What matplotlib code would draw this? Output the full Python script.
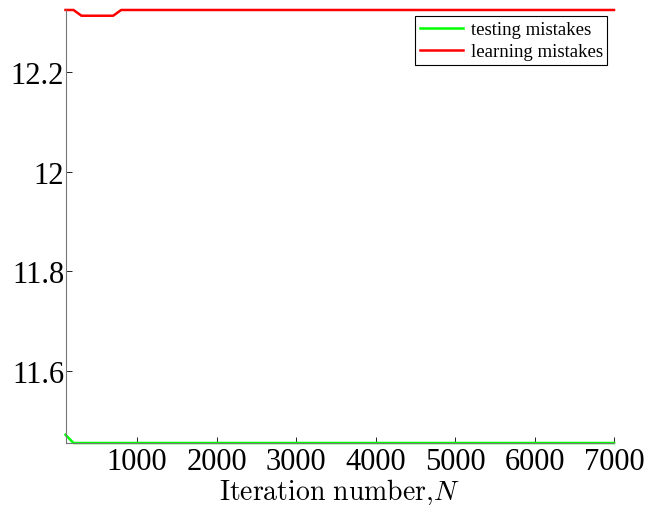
import matplotlib.pyplot as plt

# Iteration checkpoints where the curves change
red_iters = [100, 200, 300, 700, 800, 7000]
learning_mistakes = [12.3235, 12.3235, 12.312, 12.312, 12.3235, 12.3235]

green_iters = [100, 200, 7000]
testing_mistakes = [11.473, 11.4565, 11.4565]

xticks = [1000, 2000, 3000, 4000, 5000, 6000, 7000]
yticks = [11.6, 11.8, 12.0, 12.2]
ytick_labels = ['11.6', '11.8', '12', '12.2']

plt.rcParams['font.family'] = 'Liberation Serif'
plt.rcParams['mathtext.fontset'] = 'cm'

fig = plt.figure(figsize=(6.52, 5.06), dpi=100)
ax = fig.add_axes([0.1005, 0.1225, 0.8412, 0.8558])

ax.plot(green_iters, testing_mistakes, color='#00ff00', lw=1.8,
        label='testing mistakes', clip_on=False)
ax.plot(red_iters, learning_mistakes, color='#ff0000', lw=1.8,
        label='learning mistakes', clip_on=False)

ax.set_xlim(100, 7000)
ax.set_ylim(min(testing_mistakes), max(learning_mistakes))
ax.set_xticks(xticks)
ax.set_yticks(yticks)
ax.set_yticklabels(ytick_labels)
ax.tick_params(direction='in', length=4, width=0.6, labelsize=22)
ax.tick_params(axis='x', pad=3)
ax.tick_params(axis='y', pad=1)

ax.spines['top'].set_visible(False)
ax.spines['right'].set_visible(False)
ax.spines['left'].set_color('#777777')
ax.spines['bottom'].set_color('#777777')

ax.set_xlabel(r'$\mathrm{Iteration\ number}{,}N$', fontsize=20)
ax.xaxis.set_label_coords(0.5, -0.0765)

leg = ax.legend(loc='upper right', bbox_to_anchor=(0.988, 0.985), fontsize=13.5,
                fancybox=False, edgecolor='black', framealpha=1,
                handlelength=2.3, borderpad=0.25, labelspacing=0.25,
                handletextpad=0.4, borderaxespad=0)
leg.get_frame().set_linewidth(0.8)

fig.savefig('out.png', dpi=100)
